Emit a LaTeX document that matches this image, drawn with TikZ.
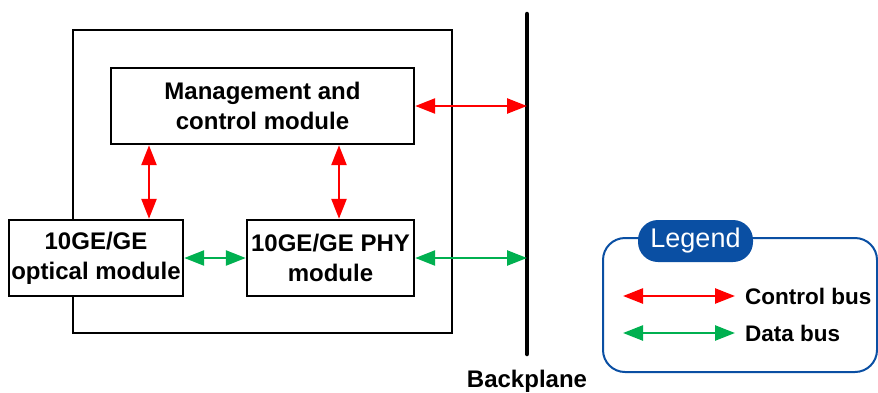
\documentclass[tikz,border=0pt]{standalone}
\usepackage{fontspec}
\setmainfont{Liberation Sans}
\usetikzlibrary{arrows.meta,calc}
\definecolor{busred}{HTML}{FF0000}
\definecolor{busgreen}{HTML}{00B050}
\definecolor{legblue}{HTML}{0A4FA3}
\begin{document}
\begin{tikzpicture}[x=1pt,y=-1pt,
  box/.style={draw=black,line width=2.4pt,fill=white,align=center,inner sep=0pt,
    font=\fontsize{24}{30}\selectfont\bfseries,minimum height=76pt},
  bus/.style={line width=2.5pt,{Triangle[length=20pt,width=15pt]}-{Triangle[length=20pt,width=15pt]}},
  ctrl/.style={bus,draw=busred,color=busred},
  data/.style={bus,draw=busgreen,color=busgreen},
  lbl/.style={font=\fontsize{24}{30}\selectfont\bfseries,inner sep=0pt},
  leglbl/.style={font=\fontsize{22.5}{28}\selectfont\bfseries,inner sep=0pt,anchor=west}]
\useasboundingbox (0,0) rectangle (878,392);
% outer box
\draw[line width=2.4pt] (73,30) rectangle (452,333);
% modules
\node[box,minimum width=303pt] (mgmt) at (262.5,106) {Management and\\control module};
\node[box,minimum width=174pt] (opt) at (96,258) {10GE/GE\\optical module};
\node[box,minimum width=167pt] (phy) at (330.5,258) {10GE/GE PHY\\module};
% backplane
\coordinate (bpTop) at (527,14);
\coordinate (bpBot) at (527,354);
\draw[line width=4.5pt,line cap=round] (bpTop) -- (bpBot);
\node[lbl] (bplabel) at (527,381) {Backplane};
% helper x positions
\coordinate (c1) at (149,0);
\coordinate (c2) at (339,0);
% buses
\draw[ctrl] (mgmt.east) -- (mgmt.east -| bpTop);
\draw[data] (phy.east) -- (phy.east -| bpTop);
\draw[ctrl] (mgmt.south -| c1) -- (opt.north -| c1);
\draw[ctrl] (mgmt.south -| c2) -- (phy.north -| c2);
\draw[data] (opt.east) -- (phy.west);
% legend
\draw[legblue,line width=2pt,rounded corners=22pt] (603,238) rectangle (877,372);
\node[fill=legblue,rounded corners=20pt,minimum width=115pt,minimum height=42pt,inner sep=0pt,
  text=white,font=\fontsize{27}{32}\selectfont] (legtitle) at (695.5,241) {Legend};
\coordinate (lr1) at (623,296);
\coordinate (lr2) at (735,296);
\coordinate (lg1) at (623,333);
\coordinate (lg2) at (735,333);
\draw[ctrl] (lr1) -- (lr2);
\draw[data] (lg1) -- (lg2);
\node[leglbl] (lctrl) at (745,296) {Control bus};
\node[leglbl] (ldata) at (745,333) {Data bus};
\end{tikzpicture}
\end{document}
